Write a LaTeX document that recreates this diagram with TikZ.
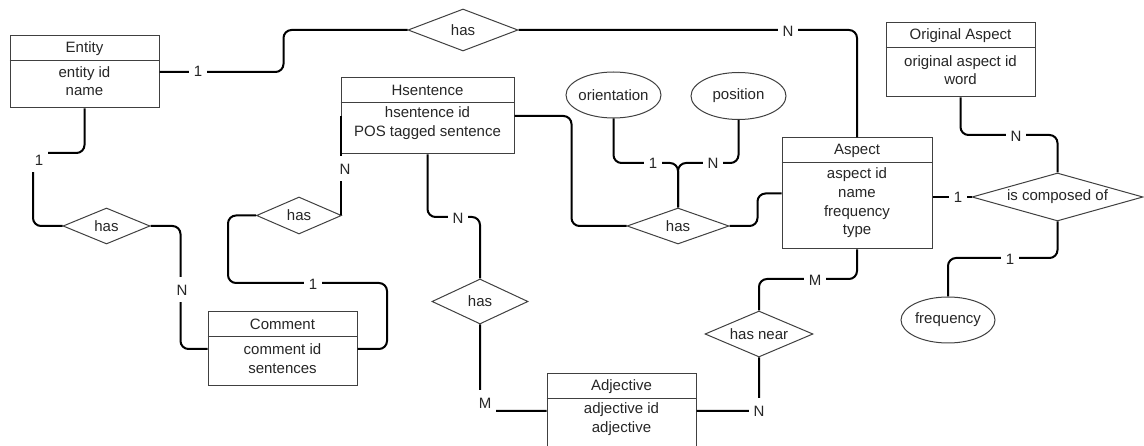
\documentclass[tikz,border=0pt]{standalone}
\usepackage{fontspec}
\setmainfont{Liberation Sans}
\usetikzlibrary{shapes.geometric}
\begin{document}
\begin{tikzpicture}[x=1pt,y=-1pt,
  every node/.style={font=\fontsize{15pt}{18.7pt}\selectfont, text=black!85},
  ebox/.style={draw=black!75, line width=1pt, rectangle, inner sep=0pt, fill=white},
  boxline/.style={draw=black!75, line width=1pt},
  rel/.style={draw=black!75, line width=1pt, shape=diamond, inner sep=0pt, fill=white},
  attr/.style={draw=black!75, line width=1pt, shape=ellipse, inner sep=0pt, fill=white},
  conn/.style={line width=2pt, black, rounded corners=8pt},
  lbl/.style={fill=white, inner xsep=4.5pt, inner ysep=0pt, minimum height=25pt},
  body/.style={align=center, inner sep=0pt}]
\useasboundingbox (0,0) rectangle (1144,446);
\clip (0,0) rectangle (1144,446);

% ---------- entities ----------
\node[ebox, minimum width=149pt, minimum height=72pt] (entity) at (84.5,72) {};
\draw[boxline] (entity.west |- 0,61) -- (entity.east |- 0,61);
\node (entity-t) at (84.5,48.5) {Entity};
\node[body] (entity-b) at (84.5,81) {entity id\\name};

\node[ebox, minimum width=173pt, minimum height=76pt] (hsent) at (427.5,116) {};
\draw[boxline] (hsent.west |- 0,103) -- (hsent.east |- 0,103);
\node (hsent-t) at (427.5,90.5) {Hsentence};
\node[body] (hsent-b) at (427.5,123) {hsentence id\\POS tagged sentence};

\node[ebox, minimum width=149pt, minimum height=74pt] (comment) at (282.5,349) {};
\draw[boxline] (comment.west |- 0,337) -- (comment.east |- 0,337);
\node (comment-t) at (282.5,324.5) {Comment};
\node[body] (comment-b) at (282.5,358.5) {comment id\\sentences};

\node[ebox, minimum width=149pt, minimum height=74pt] (adj) at (621.5,411) {};
\draw[boxline] (adj.west |- 0,399) -- (adj.east |- 0,399);
\node (adj-t) at (621.5,386.5) {Adjective};
\node[body] (adj-b) at (621.5,419) {adjective id\\adjective};

\node[ebox, minimum width=150pt, minimum height=111pt] (aspect) at (857,193.5) {};
\draw[boxline] (aspect.west |- 0,163) -- (aspect.east |- 0,163);
\node (aspect-t) at (857,150.5) {Aspect};
\node[body] (aspect-b) at (857,203) {aspect id\\name\\frequency\\type};

\node[ebox, minimum width=149pt, minimum height=74pt] (orig) at (960.5,60) {};
\draw[boxline] (orig.west |- 0,48) -- (orig.east |- 0,48);
\node (orig-t) at (960.5,35.5) {Original Aspect};
\node[body] (orig-b) at (960.5,70) {original aspect id\\word};

% ---------- relationships ----------
\node[rel, minimum width=110pt, minimum height=42pt] (hasA) at (463,30) {\makebox[0pt]{has}};
\node[rel, minimum width=87pt, minimum height=36pt] (hasB) at (106.5,226) {\makebox[0pt]{has}};
\node[rel, minimum width=85pt, minimum height=37pt] (hasC) at (299,215.5) {\makebox[0pt]{has}};
\node[rel, minimum width=96pt, minimum height=45pt] (hasD) at (480,301.5) {\makebox[0pt]{has}};
\node[rel, minimum width=102pt, minimum height=36pt] (hasE) at (678,226) {\makebox[0pt]{has}};
\node[rel, minimum width=108pt, minimum height=46pt] (hasNear) at (759,334) {\makebox[0pt]{has near}};
\node[rel, minimum width=171pt, minimum height=48pt] (isComp) at (1057.5,197) {\makebox[0pt]{is composed of}};

% ---------- attributes ----------
\node[attr, minimum width=95pt, minimum height=46pt] (orient) at (613.5,95) {\makebox[0pt]{orientation}};
\node[attr, minimum width=95pt, minimum height=47pt] (pos) at (738.5,96) {\makebox[0pt]{position}};
\node[attr, minimum width=94pt, minimum height=46pt] (freq) at (948,320) {\makebox[0pt]{frequency}};

% ---------- connectors ----------
\draw[conn] (entity.east) -- ++(124,0) |- (hasA.west);
\draw[conn] (hasA.east) -| (aspect.north);
\draw[conn] (entity.south) |- (50,153) -| (33,190) |- (hasB.west);
\draw[conn] (hasB.east) -- ++(30,0) |- (comment.west);
\draw[conn] (hsent.west) -- (hsent.west |- hasC.east);
\draw[conn] (hasC.west) -| (228,283) -| (387,349) -- (comment.east);
\draw[conn] (hsent.south) |- (454,217) -| (hasD.north);
\draw[conn] (hasD.south) |- (adj.west);
\draw[conn] (adj.east) -| (hasNear.south);
\draw[conn] (hasNear.north) |- (808,279) -| (aspect.south);
\draw[conn] (aspect.east |- isComp.west) -- (isComp.west);
\draw[conn] (orig.south) |- (1010,135) -| (isComp.north);
\draw[conn] (isComp.south) |- (1000,258) -| (freq.north);
\draw[conn] (hsent.east) -- ++(57,0) |- (hasE.west);
\draw[conn] (hasE.east) -- ++(28,0) |- (aspect.west);
\draw[conn] (orient.south) |- (650,163) -| (hasE.north);
\draw[conn] (pos.south) |- (710,163) -| (hasE.north);

% ---------- cardinalities ----------
\node[lbl] (c-entity-hasA) at (198,71) {1};
\node[lbl] (c-hasA-aspect) at (788,31) {N};
\node[lbl] (c-entity-hasB) at (39,160) {1};
\node[lbl] (c-hasB-comment) at (182,290) {N};
\node[lbl] (c-hsent-hasC) at (345,169) {N};
\node[lbl] (c-hasC-comment) at (313,284) {1};
\node[lbl] (c-hsent-hasD) at (458,218) {N};
\node[lbl] (c-hasD-adj) at (485,403) {M};
\node[lbl] (c-adj-hasNear) at (759,411) {N};
\node[lbl] (c-hasNear-aspect) at (815,280) {M};
\node[lbl] (c-aspect-isComp) at (958,197) {1};
\node[lbl] (c-orig-isComp) at (1016,136) {N};
\node[lbl] (c-isComp-freq) at (1010,259) {1};
\node[lbl] (c-orient-hasE) at (653,163) {1};
\node[lbl] (c-pos-hasE) at (713,163) {N};
\end{tikzpicture}
\end{document}
